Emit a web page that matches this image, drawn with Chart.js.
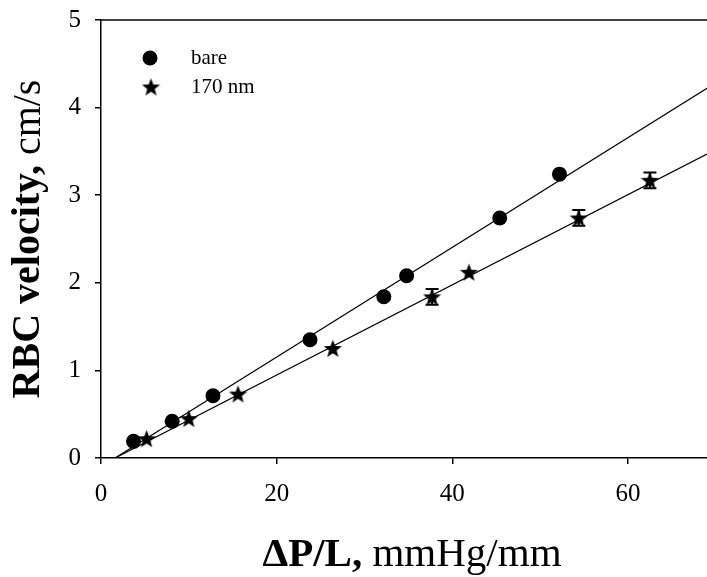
<!DOCTYPE html>
<html>
<head>
<meta charset="utf-8">
<script src="https://cdn.jsdelivr.net/npm/chart.js@4/dist/chart.umd.min.js"></script>
<style>
	body { margin: 0; background: #fff; }
	#wrap { width: 707px; height: 577px; }
</style>
</head>
<body>
<div id="wrap"><canvas id="velocityChart" width="707" height="577"></canvas></div>
<script>
// values
const bareX = [3.7, 8.1, 12.75, 23.8, 32.2, 34.8, 45.4, 52.2];
const bareY = [0.19, 0.42, 0.71, 1.35, 1.84, 2.08, 2.74, 3.24];

const coatX = [5.2, 10.0, 15.6, 26.4, 37.7, 41.9, 54.4, 62.5];
const coatY = [0.22, 0.45, 0.73, 1.25, 1.84, 2.12, 2.74, 3.17];
const coatErr = [0, 0, 0, 0, 0.09, 0, 0.09, 0.09];

// linear fits (end points)
const bareFitX = [1.6, 69];
const bareFitY = [0, 4.22];
const coatFitX = [1.6, 69];
const coatFitY = [0, 3.47];

const xTicks = [0, 20, 40, 60];
const yTicks = [0, 1, 2, 3, 4, 5];
const seriesNames = ['bare', '170 nm'];

const SERIF = '"Liberation Serif", "Times New Roman", serif';

function toPoints(xs, ys) {
	return xs.map((x, i) => ({ x: x, y: ys[i] }));
}

function makeStar(size) {
	const c = document.createElement('canvas');
	c.width = size;
	c.height = size;
	const g = c.getContext('2d');
	const cx = size / 2, cy = size / 2 + 0.8;
	const outer = size / 2, inner = outer * 0.42;
	g.beginPath();
	for (let i = 0; i < 10; i++) {
		const r = i % 2 === 0 ? outer : inner;
		const a = -Math.PI / 2 + i * Math.PI / 5;
		const px = cx + r * Math.cos(a);
		const py = cy + r * Math.sin(a);
		if (i === 0) g.moveTo(px, py); else g.lineTo(px, py);
	}
	g.closePath();
	g.fillStyle = '#000';
	g.fill();
	return c;
}

const starImg = makeStar(19);

// error bars on the 170 nm series
const errorBars = {
	id: 'errorBars',
	afterDatasetsDraw(chart) {
		const ctx = chart.ctx;
		const xs = chart.scales.x, ys = chart.scales.y;
		ctx.save();
		ctx.strokeStyle = '#000';
		ctx.lineWidth = 2;
		coatX.forEach((x, i) => {
			const e = coatErr[i];
			if (!e) return;
			const px = xs.getPixelForValue(x);
			const top = ys.getPixelForValue(coatY[i] + e);
			const bot = ys.getPixelForValue(coatY[i] - e);
			ctx.beginPath();
			ctx.moveTo(px, top); ctx.lineTo(px, bot);
			ctx.moveTo(px - 6.5, top); ctx.lineTo(px + 6.5, top);
			ctx.moveTo(px - 6.5, bot); ctx.lineTo(px + 6.5, bot);
			ctx.stroke();
		});
		ctx.restore();
	}
};

// frame top line, legend and mixed-weight axis titles
const decorations = {
	id: 'decorations',
	afterDraw(chart) {
		const ctx = chart.ctx;
		const area = chart.chartArea;
		ctx.save();

		ctx.strokeStyle = '#000';
		ctx.lineWidth = 1.5;
		ctx.beginPath();
		ctx.moveTo(area.left, area.top);
		ctx.lineTo(chart.width, area.top);
		ctx.stroke();

		// legend
		ctx.fillStyle = '#000';
		ctx.beginPath();
		ctx.arc(150, 58, 7.5, 0, Math.PI * 2);
		ctx.fill();
		ctx.drawImage(starImg, 151 - 9.5, 87 - 9.5);
		ctx.font = '21px ' + SERIF;
		ctx.textBaseline = 'middle';
		ctx.textAlign = 'left';
		ctx.fillText(seriesNames[0], 191, 58);
		ctx.fillText(seriesNames[1], 191, 87);

		// axis titles
		drawMixed(ctx, 'ΔP/L,', ' mmHg/mm', 41, 412, 555, 0);
		drawMixed(ctx, 'RBC velocity,', ' cm/s', 40, 29, (area.top + area.bottom) / 2, -Math.PI / 2);

		ctx.restore();
	}
};

function drawMixed(ctx, boldPart, normalPart, size, cx, cy, rot) {
	ctx.save();
	ctx.translate(cx, cy);
	ctx.rotate(rot);
	ctx.textBaseline = 'middle';
	ctx.textAlign = 'left';
	ctx.font = 'bold ' + size + 'px ' + SERIF;
	const w1 = ctx.measureText(boldPart).width;
	ctx.font = size + 'px ' + SERIF;
	const w2 = ctx.measureText(normalPart).width;
	const start = -(w1 + w2) / 2;
	ctx.font = 'bold ' + size + 'px ' + SERIF;
	ctx.fillText(boldPart, start, 0);
	ctx.font = size + 'px ' + SERIF;
	ctx.fillText(normalPart, start + w1, 0);
	ctx.restore();
}

const ctx = document.getElementById('velocityChart').getContext('2d');

new Chart(ctx, {
	type: 'scatter',
	data: {
		datasets: [
			{
				label: seriesNames[0],
				data: toPoints(bareX, bareY),
				pointStyle: 'circle',
				pointRadius: 7.5,
				pointHoverRadius: 7.5,
				backgroundColor: '#000',
				borderColor: '#000',
				borderWidth: 0,
				order: 1
			},
			{
				label: seriesNames[1],
				data: toPoints(coatX, coatY),
				pointStyle: starImg,
				backgroundColor: '#000',
				borderColor: '#000',
				order: 1
			},
			{
				label: 'bare fit',
				type: 'line',
				data: toPoints(bareFitX, bareFitY),
				showLine: true,
				pointRadius: 0,
				borderColor: '#000',
				borderWidth: 1.2,
				fill: false,
				order: 2
			},
			{
				label: '170 nm fit',
				type: 'line',
				data: toPoints(coatFitX, coatFitY),
				showLine: true,
				pointRadius: 0,
				borderColor: '#000',
				borderWidth: 1.2,
				fill: false,
				order: 2
			}
		]
	},
	options: {
		responsive: false,
		animation: false,
		layout: { autoPadding: false, padding: { top: 20, right: 0, left: 0, bottom: 0 } },
		plugins: {
			legend: { display: false },
			tooltip: { enabled: false }
		},
		scales: {
			x: {
				type: 'linear',
				min: 0,
				max: 69,
				afterBuildTicks: axis => { axis.ticks = xTicks.map(v => ({ value: v })); },
				afterFit: axis => {
					axis.height = 119;
					axis.paddingRight = 0;
					axis.paddingLeft = 0;
				},
				border: { display: true, color: '#000', width: 1.5 },
				grid: { drawOnChartArea: false, drawTicks: true, tickLength: 6, color: '#000', lineWidth: 1.5 },
				ticks: { color: '#000', font: { family: SERIF, size: 25 }, padding: 15, maxRotation: 0 }
			},
			y: {
				type: 'linear',
				min: 0,
				max: 5,
				afterBuildTicks: axis => { axis.ticks = yTicks.map(v => ({ value: v })); },
				afterFit: axis => {
					axis.width = 101;
					axis.paddingTop = 0;
					axis.paddingBottom = 0;
				},
				border: { display: true, color: '#000', width: 1.5 },
				grid: { drawOnChartArea: false, drawTicks: true, tickLength: 6, color: '#000', lineWidth: 1.5 },
				ticks: { color: '#000', font: { family: SERIF, size: 25 }, padding: 14 }
			}
		}
	},
	plugins: [errorBars, decorations]
});
</script>
</body>
</html>
